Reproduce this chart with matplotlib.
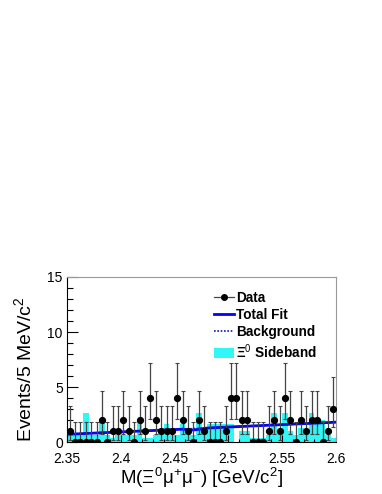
import numpy as np
import matplotlib
matplotlib.use('Agg')
import matplotlib.pyplot as plt
from matplotlib.patches import Patch
from matplotlib.lines import Line2D

plt.rcParams['font.family'] = ['Liberation Sans', 'DejaVu Sans']
plt.rcParams['mathtext.fontset'] = 'custom'
plt.rcParams['mathtext.rm'] = 'Liberation Sans'
plt.rcParams['mathtext.it'] = 'Liberation Sans'
plt.rcParams['mathtext.bf'] = 'Liberation Sans:bold'

# ---- data ----
x_edges_lo, x_edges_hi, n_bins = 2.35, 2.60, 50
data_counts = [1, 0, 0, 0, 0, 0, 2, 0, 1, 1,
               2, 1, 0, 2, 1, 4, 2, 1, 1, 1,
               4, 2, 1, 0, 2, 1, 0, 0, 0, 1,
               4, 4, 2, 2, 0, 0, 0, 1, 2, 1,
               4, 2, 0, 2, 1, 2, 2, 0, 1, 3]
sideband = [0.65, 0.65, 0.65, 2.6, 0.65, 0.65, 1.95, 0.65, 0.33, 0.65,
            0.65, 0.65, 0.65, 1.95, 0.33, 0.33, 0.65, 1.0, 1.6, 0.65,
            0.65, 1.6, 1.0, 0.65, 2.6, 1.3, 1.6, 1.6, 1.6, 1.6,
            1.6, 0.0, 1.0, 1.0, 0.33, 0.33, 0.33, 0.65, 2.6, 1.0,
            2.6, 1.0, 0.65, 1.3, 1.0, 2.6, 2.0, 2.0, 0.65, 0.33]
# Poisson 68% interval (lower, upper) for n = 0..4
pois_lo = [0.0, 0.1727, 0.7083, 1.3672, 2.0856]
pois_hi = [1.8410, 3.2995, 4.6379, 5.9182, 7.1627]
# fit model: linear background + small (negative) signal at Xi_c mass
bkg_at_lo, bkg_at_hi = 0.70, 1.80
sig_mean, sig_sigma, sig_amp = 2.468, 0.005, -0.12

edges = np.linspace(x_edges_lo, x_edges_hi, n_bins + 1)
centers = 0.5 * (edges[:-1] + edges[1:])
counts = np.array(data_counts)
err_lo = counts - np.array([pois_lo[c] for c in counts])
err_hi = np.array([pois_hi[c] for c in counts]) - counts

mm = np.linspace(x_edges_lo, x_edges_hi, 400)
bkg = bkg_at_lo + (bkg_at_hi - bkg_at_lo) * (mm - x_edges_lo) / (x_edges_hi - x_edges_lo)
total = bkg + sig_amp * np.exp(-0.5 * ((mm - sig_mean) / sig_sigma) ** 2)

# ---- figure ----
fig = plt.figure(figsize=(3.82, 4.94), dpi=100)
ax = fig.add_axes([67 / 382, 52 / 494, 269 / 382, 165 / 494])

cyan = '#30f6f6'
ax.stairs(sideband, edges, fill=True, facecolor=cyan, edgecolor='none', zorder=1)
ax.plot(mm, bkg, color='#1010c0', lw=1.2, ls=(0, (1, 1)), zorder=3)
ax.plot(mm, total, color='#0000ff', lw=2.0, zorder=2)
ax.errorbar(centers, counts, yerr=[err_lo, err_hi], fmt='o', color='black', ms=4.2,
            ecolor='#444444', elinewidth=0.9, capsize=1.6, capthick=0.8, zorder=4)

ax.set_xlim(x_edges_lo, x_edges_hi)
ax.set_ylim(0, 15)
ax.set_xticks(np.arange(2.35, 2.6001, 0.05))
ax.set_xticklabels(['2.35', '2.4', '2.45', '2.5', '2.55', '2.6'])
ax.set_xticks(np.arange(2.35, 2.6001, 0.01), minor=True)
ax.set_yticks([0, 5, 10, 15])
ax.set_yticks(np.arange(0, 15.01, 1), minor=True)
ax.tick_params(axis='both', which='both', direction='in', top=False, right=False,
               labelsize=10, width=0.8)
ax.tick_params(axis='y', which='major', length=8, pad=3)
ax.tick_params(axis='y', which='minor', length=4)
ax.tick_params(axis='x', which='major', length=5, pad=7)
ax.tick_params(axis='x', which='minor', length=2.5)
for s in ['top', 'right']:
    ax.spines[s].set_color('#999999')
for s in ['left', 'bottom']:
    ax.spines[s].set_color('black')

ax.set_ylabel('Events/5 MeV/c$^{2}$', fontsize=14)
ax.yaxis.set_label_coords(-0.117, 0.44)
ax.set_xlabel('M(Ξ$^{0}$μ$^{+}$μ$^{-}$) [GeV/c$^{2}$]', fontsize=13.5, labelpad=0)

handles = [
    Line2D([], [], color='#444466', lw=0.9, marker='o', ms=4, mfc='black', mec='black'),
    Line2D([], [], color='#0000ff', lw=2.0),
    Line2D([], [], color='#1010c0', lw=1.2, ls=(0, (1, 1))),
    Patch(facecolor=cyan, edgecolor='none'),
]
labels = ['Data', 'Total Fit', 'Background', 'Ξ$^{0}$ Sideband']
ax.legend(handles, labels, loc='upper left', bbox_to_anchor=(0.545, 0.915),
          frameon=False, prop={'weight': 'bold', 'size': 9.8}, handlelength=1.5,
          handletextpad=0.15, labelspacing=0.22, borderpad=0, borderaxespad=0)

fig.savefig('out.png', dpi=100)
